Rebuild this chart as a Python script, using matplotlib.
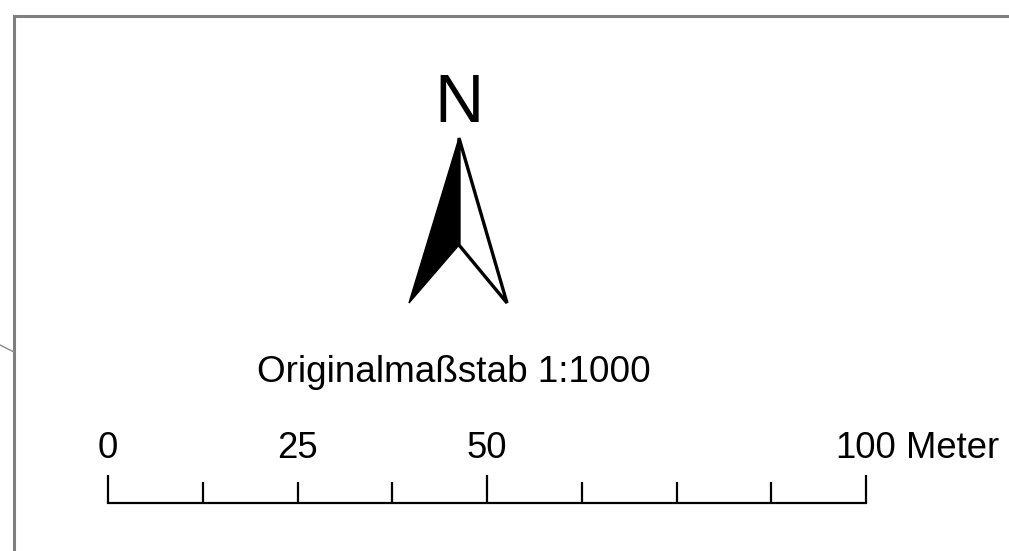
import matplotlib
matplotlib.use('Agg')
import matplotlib.pyplot as plt
from matplotlib.patches import Polygon

plt.rcParams['font.family'] = ['Liberation Sans', 'DejaVu Sans']

# scale bar content (meters)
scale_ticks_m = [0, 12.5, 25, 37.5, 50, 62.5, 75, 87.5, 100]
major_ticks_m = [0, 50, 100]
label_ticks_m = [0, 25, 50, 100]
scale_unit = 'Meter'
scale_title = 'Originalmaßstab 1:1000'
north_label = 'N'

# layout in pixels
W, H = 1009, 551
bar_x0, bar_y = 108, 503
px_per_m = (866 - 108) / 100.0


def mx(m):
    return bar_x0 + m * px_per_m


fig = plt.figure(figsize=(W / 100, H / 100), dpi=100)
ax = fig.add_axes((0, 0, 1, 1))
ax.set_xlim(0, W)
ax.set_ylim(H, 0)
ax.axis('off')

# map frame (gray) and the small stray line on the left
ax.plot([14, 14, W + 5], [H + 5, 16, 16], color='#7f7f7f', lw=2.2,
        solid_joinstyle='miter', solid_capstyle='butt')
ax.plot([0, 14], [345, 352], color='#8a8a8a', lw=1.0)

# north arrow
tip, notch = (459, 138), (459, 245)
left, right = (409, 303), (507, 303)
ax.add_patch(Polygon([tip, left, notch], closed=True, facecolor='black',
                     edgecolor='black', lw=1.0, joinstyle='miter'))
ax.add_patch(Polygon([tip, notch, right], closed=True, facecolor='white',
                     edgecolor='black', lw=2.4, joinstyle='miter'))
ax.text(459, 122, north_label, fontsize=49, ha='center', va='baseline')

# scale text
ax.text(454, 382, scale_title, fontsize=26.6, ha='center', va='baseline')

# scale bar
ax.plot([mx(0), mx(100)], [bar_y, bar_y], color='black', lw=1.6,
        solid_capstyle='projecting')
for m in scale_ticks_m:
    top = 475 if m in major_ticks_m else 482
    ax.plot([mx(m), mx(m)], [top, bar_y], color='black', lw=1.6,
            solid_capstyle='butt')

for m in label_ticks_m:
    t = ax.text(mx(m), 458, f'{m:g}', fontsize=26.3, ha='center', va='baseline')
    if m == label_ticks_m[-1]:
        ax.annotate(scale_unit, xy=(1, 0), xycoords=t, xytext=(7, 0),
                    textcoords='offset points', fontsize=26.3,
                    ha='left', va='bottom')

fig.savefig('out.png', dpi=100)
